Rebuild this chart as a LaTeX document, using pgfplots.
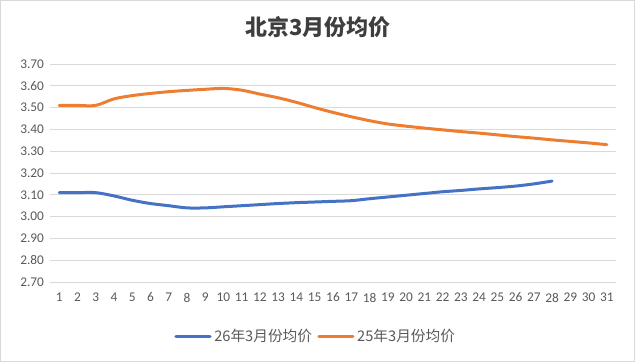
\documentclass[border=0pt]{standalone}
\usepackage{pgfplots}
\pgfplotsset{compat=1.18}
\usepackage{fontspec}
\setmainfont{Carlito}
\newfontfamily\cjk{Noto Sans CJK SC}
\definecolor{cblue}{HTML}{4472C4}
\definecolor{corange}{HTML}{ED7D31}
\definecolor{tickgray}{HTML}{595959}
\definecolor{gridgray}{HTML}{D9D9D9}
\begin{document}
\begin{tikzpicture}
\begin{axis}[
  name=ax,
  scale only axis,
  width=424.5pt, height=163.5pt,
  xmin=0.5, xmax=31.5,
  ymin=2.7, ymax=3.7,
  xtick={1,...,31},
  ytick={2.7,2.8,...,3.71},
  yticklabel style={xshift=-1pt},
  y tick label style={/pgf/number format/fixed, /pgf/number format/fixed zerofill, /pgf/number format/precision=2},
  /pgf/number format/assume math mode=true,
  ticklabel style={font=\fontsize{10}{11}\selectfont, text=tickgray},
  xticklabel style={inner sep=1pt, yshift=-7pt},
  major tick length=0pt,
  axis y line*=left,
  axis x line*=bottom,
  y axis line style={draw=none},
  x axis line style={draw=gridgray, line width=0.75pt, -},
  ymajorgrids,
  grid style={draw=gridgray, line width=0.6pt},
  legend columns=2,
  legend style={at={(0.47,-0.248)}, anchor=center, draw=none, fill=none,
    font=\cjk\fontsize{11}{13}\selectfont, text=tickgray,
    /tikz/every even column/.append style={column sep=2pt}},
  legend image code/.code={\draw[#1, line width=2.25pt, line cap=round] (0cm,0cm) -- (0.9cm,0cm);},
]
\addplot[cblue, line width=2.25pt, smooth, line cap=round] coordinates {
(1,3.11)(2,3.11)(3,3.11)(4,3.095)(5,3.075)(6,3.06)(7,3.05)(8,3.04)(9,3.04)(10,3.045)
(11,3.05)(12,3.055)(13,3.06)(14,3.064)(15,3.067)(16,3.07)(17,3.073)(18,3.082)(19,3.09)(20,3.098)
(21,3.106)(22,3.114)(23,3.12)(24,3.127)(25,3.133)(26,3.14)(27,3.15)(28,3.163)};
\addlegendentry{26年3月份均价}
\addplot[corange, line width=2.25pt, smooth, line cap=round] coordinates {
(1,3.51)(2,3.51)(3,3.51)(4,3.54)(5,3.555)(6,3.565)(7,3.573)(8,3.579)(9,3.584)(10,3.588)
(11,3.58)(12,3.562)(13,3.545)(14,3.524)(15,3.50)(16,3.478)(17,3.458)(18,3.44)(19,3.425)(20,3.415)
(21,3.406)(22,3.398)(23,3.39)(24,3.383)(25,3.375)(26,3.367)(27,3.36)(28,3.352)(29,3.345)(30,3.338)(31,3.33)};
\addlegendentry{25年3月份均价}
\end{axis}
\draw[gridgray, line width=0.75pt] ([shift={(-37.5pt+0.4pt,-60pt+0.4pt)}]ax.south west) rectangle ([shift={(14.25pt-0.4pt,48pt-0.4pt)}]ax.north east);
\useasboundingbox ([shift={(-37.5pt,-60pt)}]ax.south west) rectangle ([shift={(14.25pt,48pt)}]ax.north east);
\node[font=\cjk\bfseries\fontsize{16.5}{18}\selectfont, text=tickgray!70!black] at ([shift={(-11.25pt,27.75pt)}]ax.north) {北京3月份均价};
\end{tikzpicture}
\end{document}
